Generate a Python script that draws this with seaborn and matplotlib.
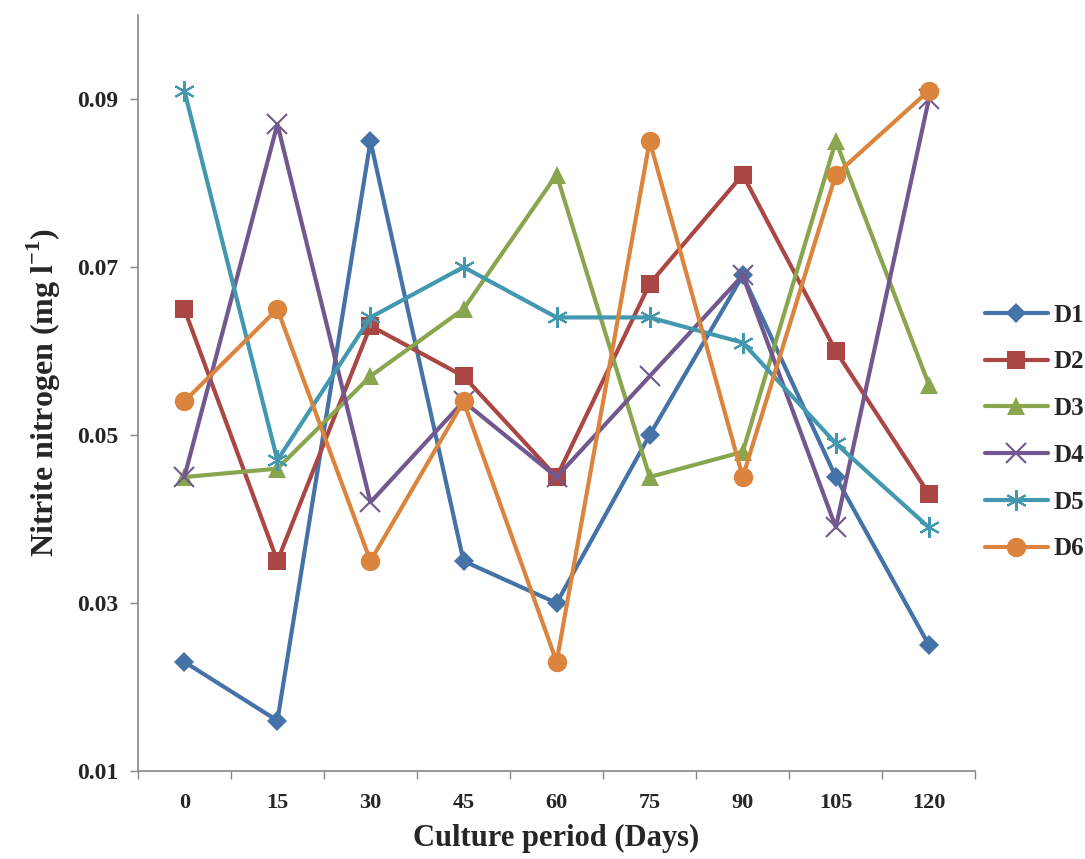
import matplotlib
matplotlib.use("Agg")
import matplotlib.pyplot as plt
import seaborn as sns
import pandas as pd
from matplotlib.ticker import FixedLocator

days = ["0", "15", "30", "45", "60", "75", "90", "105", "120"]
d1 = [0.023, 0.016, 0.085, 0.035, 0.030, 0.050, 0.069, 0.045, 0.025]
d2 = [0.065, 0.035, 0.063, 0.057, 0.045, 0.068, 0.081, 0.060, 0.043]
d3 = [0.045, 0.046, 0.057, 0.065, 0.081, 0.045, 0.048, 0.085, 0.056]
d4 = [0.045, 0.087, 0.042, 0.054, 0.045, 0.057, 0.069, 0.039, 0.090]
d5 = [0.091, 0.047, 0.064, 0.070, 0.064, 0.064, 0.061, 0.049, 0.039]
d6 = [0.054, 0.065, 0.035, 0.054, 0.023, 0.085, 0.045, 0.081, 0.091]

series = {"D1": d1, "D2": d2, "D3": d3, "D4": d4, "D5": d5, "D6": d6}
colors = {"D1": "#4572A7", "D2": "#AA4643", "D3": "#89A54E",
          "D4": "#71588F", "D5": "#4198AF", "D6": "#DB843D"}
markers = {"D1": "D", "D2": "s", "D3": "^", "D4": "x", "D5": (6, 2, 0), "D6": "o"}
msizes = {"D1": 10, "D2": 13, "D3": 13, "D4": 14, "D5": 15, "D6": 14}

rows = []
for name, vals in series.items():
    for i, v in enumerate(vals):
        rows.append({"pos": i, "day": days[i], "value": v, "series": name})
df = pd.DataFrame(rows)

sns.set_style("white")
plt.rcParams["font.family"] = ["Liberation Serif", "DejaVu Serif"]
plt.rcParams["font.weight"] = "bold"
plt.rcParams["mathtext.fontset"] = "custom"
plt.rcParams["mathtext.rm"] = "Liberation Serif:bold"
plt.rcParams["mathtext.bf"] = "Liberation Serif:bold"

fig = plt.figure(figsize=(10.85, 8.59), dpi=100)
ax = fig.add_axes([0.127, 0.1024, 0.772, 0.8801])

for name in series:
    sub = df[df["series"] == name]
    mk = markers[name]
    sns.lineplot(data=sub, x="pos", y="value", ax=ax, color=colors[name],
                 linewidth=3, marker=mk, markersize=msizes[name],
                 markeredgewidth=1.5 if mk in ("x", (6, 2, 0)) else 0,
                 markeredgecolor=colors[name], label=name,
                 solid_capstyle="round")

ax.set_xlim(-0.5, len(days) - 0.5)
ax.set_ylim(0.01, 0.10)
ax.xaxis.set_major_locator(FixedLocator(range(len(days))))
ax.set_xticklabels(days)
ax.xaxis.set_minor_locator(FixedLocator([i - 0.5 for i in range(len(days) + 1)]))
ax.set_yticks([0.01, 0.03, 0.05, 0.07, 0.09])
ax.set_yticklabels(["0.01", "0.03", "0.05", "0.07", "0.09"])

ax.tick_params(axis="x", which="major", length=0, labelsize=16, pad=16)
ax.tick_params(axis="x", which="minor", length=6, width=1, color="#868686", direction="out", bottom=True)
ax.tick_params(axis="y", which="major", length=6, width=1, color="#868686", direction="out",
               labelsize=17, pad=8, left=True)
for lab in ax.get_xticklabels() + ax.get_yticklabels():
    lab.set_fontweight("bold")

for s in ["top", "right"]:
    ax.spines[s].set_visible(False)
for s in ["left", "bottom"]:
    ax.spines[s].set_color("#868686")
    ax.spines[s].set_linewidth(1.2)

ax.set_xlabel("Culture period (Days)", fontsize=22, fontweight="bold", labelpad=8)
ax.set_ylabel(r"Nitrite nitrogen (mg l$^{\mathbf{-1}}$)", fontsize=23, fontweight="bold", labelpad=10)

leg = ax.legend(loc="center left", bbox_to_anchor=(0.908, 0.497), bbox_transform=fig.transFigure,
                frameon=False, fontsize=18, handlelength=2.5, labelspacing=0.95,
                handletextpad=0.25, borderaxespad=0, borderpad=0)
for t in leg.get_texts():
    t.set_fontweight("bold")

fig.savefig("out.png", dpi=100, facecolor="white")
